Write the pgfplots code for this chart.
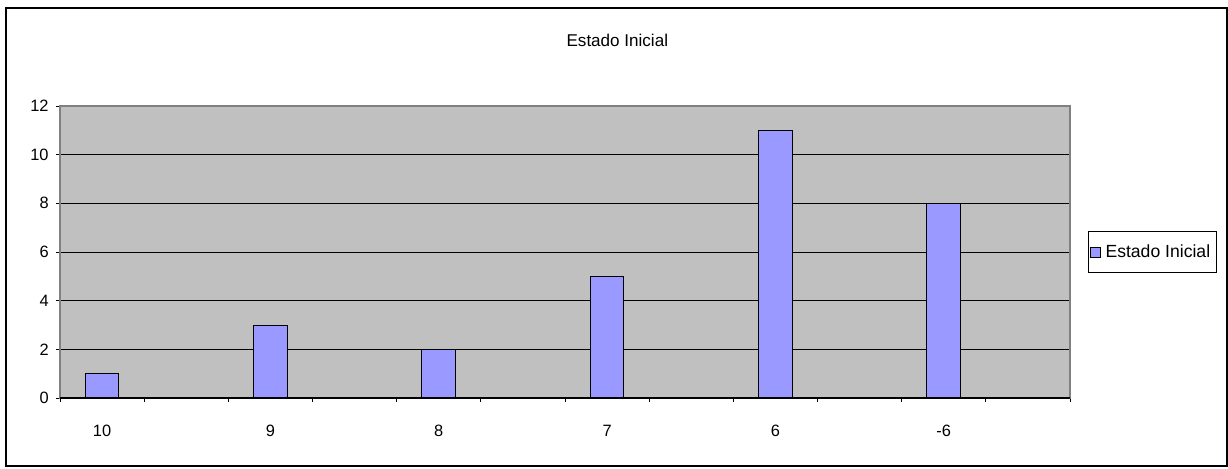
\documentclass[border=0pt]{standalone}
\usepackage{fontspec}
\setmainfont{Liberation Sans}
\usepackage{pgfplots}
\pgfplotsset{compat=1.18}
\definecolor{barblue}{HTML}{9999FF}
\definecolor{plotbg}{HTML}{C0C0C0}
\definecolor{frame}{HTML}{808080}
\begin{document}
\begin{tikzpicture}[font=\fontsize{12}{14}\selectfont]
% page = 1228x468 px, 1px = 0.75pt, origin at plot area SW corner
\path[use as bounding box] (-45pt,-52.5pt) rectangle (876pt,298.5pt);
\draw[line width=1.3pt] (-40.5pt,-51pt) rectangle (875pt,292.5pt);
\node[font=\fontsize{12.8}{15}\selectfont] at (418pt,268.5pt) {Estado Inicial};
\begin{axis}[
    at={(0pt,0pt)}, anchor=south west,
    scale only axis,
    width=757.5pt, height=219pt,
    xmin=0, xmax=12,
    ymin=0, ymax=12,
    ytick={0,2,...,12},
    xtick={0,...,12},
    xticklabels={10,,9,,8,,7,,6,,-6,},
    x tick label as interval,
    tick align=outside,
    tick pos=lower,
    major tick length=3pt,
    tick style={black, line width=0.6pt},
    axis background/.style={fill=plotbg},
    axis line style={draw=frame, line width=0.8pt},
    ymajorgrids,
    grid style={black, line width=0.7pt},
    ticklabel style={font=\fontsize{12.3}{14}\selectfont},
    yticklabel style={xshift=-2pt},
    xticklabel style={yshift=-14pt},
    /pgf/number format/assume math mode=true,
    legend style={at={(1.018,0.5)}, anchor=west, draw=black, line width=0.6pt,
        inner xsep=1pt, inner ysep=8pt, nodes={inner xsep=3.5pt},
        font=\fontsize{13.2}{15}\selectfont},
    legend image code/.code={\draw[fill=barblue, line width=0.6pt] (0pt,-3.8pt) rectangle (7.6pt,3.8pt);},
]
\addplot[ybar, bar width=0.4, fill=barblue, draw=black, line width=0.7pt]
    coordinates {(0.5,1) (2.5,3) (4.5,2) (6.5,5) (8.5,11) (10.5,8)};
\addlegendentry{Estado Inicial}
\draw[black, line width=0.8pt] (axis cs:0,0) -- (axis cs:12,0);
\end{axis}
\end{tikzpicture}
\end{document}
